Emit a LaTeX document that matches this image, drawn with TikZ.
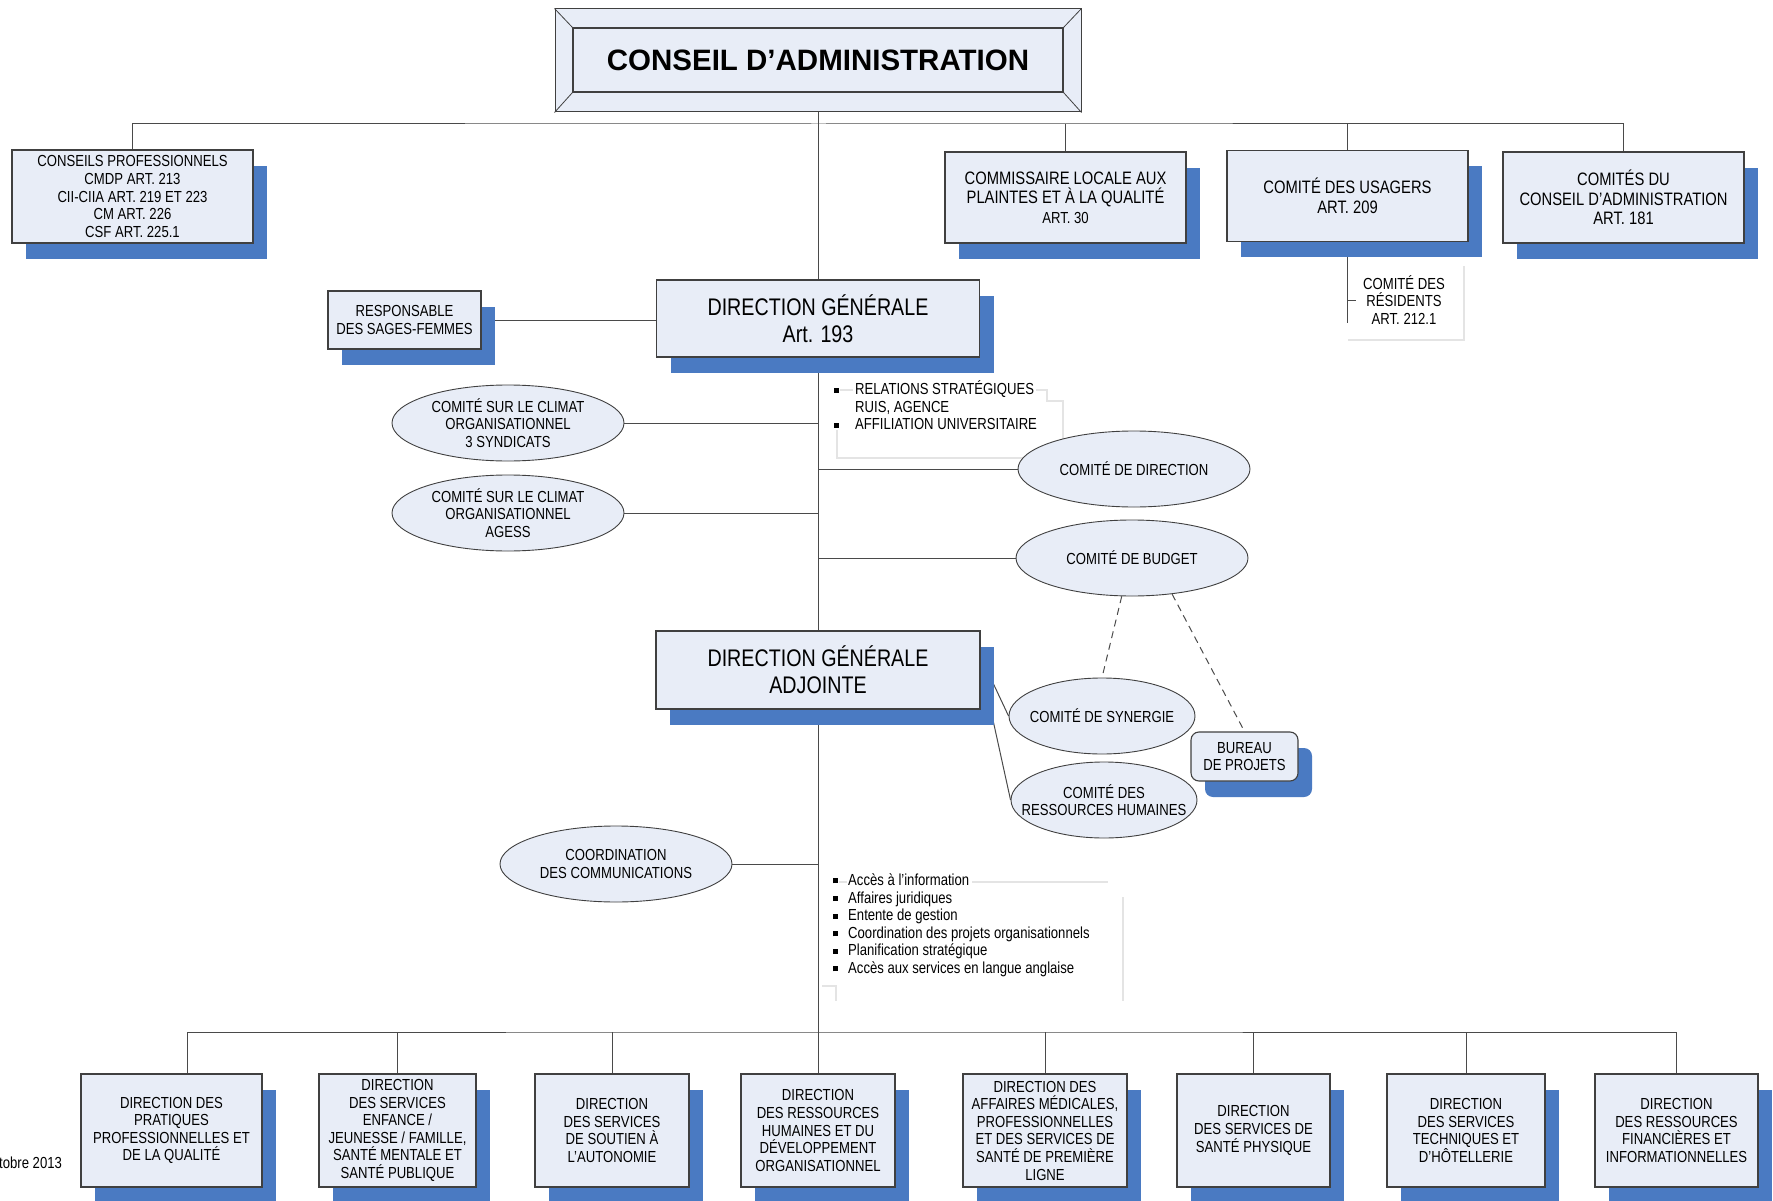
\documentclass[tikz,border=0pt]{standalone}
\usepackage{fontspec}
\setmainfont{Liberation Sans}[FakeStretch=0.82]
\newfontfamily\titlefont{Liberation Sans}
\usetikzlibrary{shapes.geometric,shadows,backgrounds,calc}
\definecolor{boxfill}{HTML}{E8EDF7}
\definecolor{shblue}{HTML}{4A7AC2}
\definecolor{edge}{HTML}{404040}
\definecolor{lineg}{HTML}{4A4A4A}
\definecolor{faint}{HTML}{E4E4E4}
\newcommand{\bsq}{\rule[2pt]{5pt}{5pt}}
\begin{document}
\begin{tikzpicture}[x=1pt,y=-1pt,
  sm/.style={font=\fontsize{16}{17.6}\selectfont},
  md/.style={font=\fontsize{18}{19.5}\selectfont},
  lg/.style={font=\fontsize{24}{27}\selectfont},
  box/.style={draw=edge, line width=1.1pt, fill=boxfill, rectangle, inner sep=0pt, align=center,
    general shadow={fill=shblue, shadow xshift=14pt, shadow yshift=-16pt}},
  oval/.style={draw=edge, line width=0.9pt, fill=boxfill, ellipse, inner xsep=-40pt, inner ysep=-10pt, align=center,
    minimum width=232pt, minimum height=76pt, sm},
  dbox/.style={box, minimum height=113pt, sm},
  conn/.style={draw=lineg, line width=1pt},
  faintline/.style={draw=faint, line width=1.2pt},
  list/.style={align=left, inner sep=0pt, anchor=north west, sm}]
\useasboundingbox (0,0) rectangle (1773,1201);

% Title
\node[draw=edge, line width=1pt, fill=boxfill, minimum width=526pt, minimum height=103pt, inner sep=0pt] (caframe) at (818,60.5) {};
\node[draw=edge, line width=1.2pt, fill=boxfill, minimum width=490pt, minimum height=64pt, inner sep=0pt,
  font=\titlefont\bfseries\fontsize{29.5}{32}\selectfont] (ca) at (818,60) {CONSEIL D’ADMINISTRATION};
\draw[draw=edge, line width=0.8pt] (caframe.north west) -- (ca.north west);
\draw[draw=edge, line width=0.8pt] (caframe.north east) -- (ca.north east);
\draw[draw=edge, line width=0.8pt] (caframe.south west) -- (ca.south west);
\draw[draw=edge, line width=0.8pt] (caframe.south east) -- (ca.south east);

% Top row
\node[box, sm, minimum width=241pt, minimum height=93pt] (cp) at (132.5,196.5)
  {CONSEILS PROFESSIONNELS\\CMDP ART. 213\\CII-CIIA ART. 219 ET 223\\CM ART. 226\\CSF ART. 225.1};
\node[box, md, minimum width=241pt, minimum height=91pt] (cc) at (1065.5,197.5)
  {COMMISSAIRE LOCALE AUX\\PLAINTES ET À LA QUALITÉ\\{\fontsize{16}{19}\selectfont ART. 30}};
\node[box, md, minimum width=241pt, minimum height=91pt] (cu) at (1347.5,196)
  {COMITÉ DES USAGERS\\ART. 209};
\node[box, md, minimum width=241pt, minimum height=91pt] (cdca) at (1623.5,197.5)
  {COMITÉS DU\\CONSEIL D’ADMINISTRATION\\ART. 181};
\node[sm, align=center, inner sep=0pt] (res) at (1404,300) {COMITÉ DES\\RÉSIDENTS\\ART. 212.1};

% Direction générale
\node[box, lg, minimum width=323pt, minimum height=77pt] (dg) at (818,318.5) {DIRECTION GÉNÉRALE\\Art. 193};
\node[box, sm, minimum width=153pt, minimum height=58pt] (resp) at (404.5,320) {RESPONSABLE\\DES SAGES-FEMMES};

\node[list] (blist1) at (834,380.5)
  {\makebox[21pt][l]{\bsq}RELATIONS STRATÉGIQUES\\\makebox[21pt][l]{}RUIS, AGENCE\\\makebox[21pt][l]{\bsq}AFFILIATION UNIVERSITAIRE};

\node[oval] (cl1) at (508,423) {COMITÉ SUR LE CLIMAT\\ORGANISATIONNEL\\3 SYNDICATS};
\node[oval] (cl2) at (508,513) {COMITÉ SUR LE CLIMAT\\ORGANISATIONNEL\\AGESS};
\node[oval] (cdir) at (1134,469) {COMITÉ DE DIRECTION};
\node[oval] (cbud) at (1132,558) {COMITÉ DE BUDGET};

% DGA
\node[box, lg, minimum width=324pt, minimum height=78pt] (dga) at (818,670) {DIRECTION GÉNÉRALE\\ADJOINTE};
\node[oval, minimum width=186pt] (csyn) at (1102,716) {COMITÉ DE SYNERGIE};
\node[oval, minimum width=186pt] (crh) at (1104,800) {COMITÉ DES\\RESSOURCES HUMAINES};
\node[box, sm, rounded corners=8pt, minimum width=107pt, minimum height=49pt] (bur) at (1244.5,756.5) {BUREAU\\DE PROJETS};
\node[oval] (cco) at (616,864) {COORDINATION\\DES COMMUNICATIONS};

\node[list] (blist2) at (833,873.5)
  {\makebox[15pt][l]{\bsq}Accès à l’information\\
   \makebox[15pt][l]{\bsq}Affaires juridiques\\
   \makebox[15pt][l]{\bsq}Entente de gestion\\
   \makebox[15pt][l]{\bsq}Coordination des projets organisationnels\\
   \makebox[15pt][l]{\bsq}Planification stratégique\\
   \makebox[15pt][l]{\bsq}Accès aux services en langue anglaise};

% Bottom row
\node[dbox, minimum width=181pt] (d1) at (171.5,1130.5) {DIRECTION DES\\PRATIQUES\\PROFESSIONNELLES ET\\DE LA QUALITÉ};
\node[dbox, minimum width=157pt] (d2) at (397.5,1130.5) {DIRECTION\\DES SERVICES\\ENFANCE /\\JEUNESSE / FAMILLE,\\SANTÉ MENTALE ET\\SANTÉ PUBLIQUE};
\node[dbox, minimum width=154pt] (d3) at (612,1130.5) {DIRECTION\\DES SERVICES\\DE SOUTIEN À\\L’AUTONOMIE};
\node[dbox, minimum width=154pt] (d4) at (818,1130.5) {DIRECTION\\DES RESSOURCES\\HUMAINES ET DU\\DÉVELOPPEMENT\\ORGANISATIONNEL};
\node[dbox, minimum width=164pt] (d5) at (1045,1130.5) {DIRECTION DES\\AFFAIRES MÉDICALES,\\PROFESSIONNELLES\\ET DES SERVICES DE\\SANTÉ DE PREMIÈRE\\LIGNE};
\node[dbox, minimum width=153pt] (d6) at (1253.5,1130.5) {DIRECTION\\DES SERVICES DE\\SANTÉ PHYSIQUE};
\node[dbox, minimum width=158pt] (d7) at (1466,1130.5) {DIRECTION\\DES SERVICES\\TECHNIQUES ET\\D’HÔTELLERIE};
\node[dbox, minimum width=163pt] (d8) at (1676.5,1130.5) {DIRECTION\\DES RESSOURCES\\FINANCIÈRES ET\\INFORMATIONNELLES};

\node[sm, anchor=west, inner sep=0pt] (date) at (-1,1163) {tobre 2013};

% Connectors
\coordinate (bus1) at (818,124);
\coordinate (bus2) at (818,1032);
\coordinate (resend) at (1347.5,323);
\coordinate (dgaA) at ($(dga.north east)+(0,26)$);
\coordinate (dgaB) at ($(dga.north east)+(0,33)$);
\coordinate (d1c) at ($(d1.north)+(15.5,0)$);
\begin{scope}[on background layer]
  \draw[conn] (caframe.south) -- (dg.north);
  \draw[conn] (dg.south) -- (dga.north);
  \draw[conn] (dga.south) -- (d4.north);
  \draw[conn] (cp.north) |- (bus1) -| (cdca.north);
  \draw[conn] (cc.north) -- (cc.north |- bus1);
  \draw[conn] (cu.north) -- (cu.north |- bus1);
  \draw[conn] (cu.south) -- (resend);
  \draw[conn] (cu.south |- res.west) -- ++(8,0);
  \draw[conn] (resp.east) -- (resp.east -| dg.west);
  \draw[conn] (cl1.east) -- (cl1.east -| dg.south);
  \draw[conn] (cl2.east) -- (cl2.east -| dg.south);
  \draw[conn] (cdir.west) -- (cdir.west -| dg.south);
  \draw[conn] (cbud.west) -- (cbud.west -| dg.south);
  \draw[conn] (cco.east) -- (cco.east -| dga.south);
  \draw[conn] (dgaA) -- (csyn.west);
  \draw[conn] (dgaB) -- (crh.west);
  \draw[conn, dash pattern=on 7pt off 5pt] (cbud.255) -- (csyn.north);
  \draw[conn, dash pattern=on 7pt off 5pt] (cbud.318) -- (bur.north);
  \draw[conn] (d1c) |- (bus2) -| (d8.north);
  \draw[conn] (d2.north) -- (d2.north |- bus2);
  \draw[conn] (d3.north) -- (d3.north |- bus2);
  \draw[conn] (d5.north) -- (d5.north |- bus2);
  \draw[conn] (d6.north) -- (d6.north |- bus2);
  \draw[conn] (d7.north) -- (d7.north |- bus2);
  % faint text-box borders
  \draw[faintline] (1464,266) -- (1464,340) -- (1348,340);
  \draw[faintline] (840,390) -- (853,390);
  \draw[faintline] (1036,390) -- (1047,390) -- (1047,401) -- (1063,401) -- (1063,458) -- (837,458) -- (837,430);
  \draw[faintline] (839,882) -- (847,882);
  \draw[faintline] (972,882) -- (1108,882);
  \draw[faintline] (1123,897) -- (1123,1001);
  \draw[faintline] (822,986) -- (836,986) -- (836,1001);
\end{scope}
\end{tikzpicture}
\end{document}
